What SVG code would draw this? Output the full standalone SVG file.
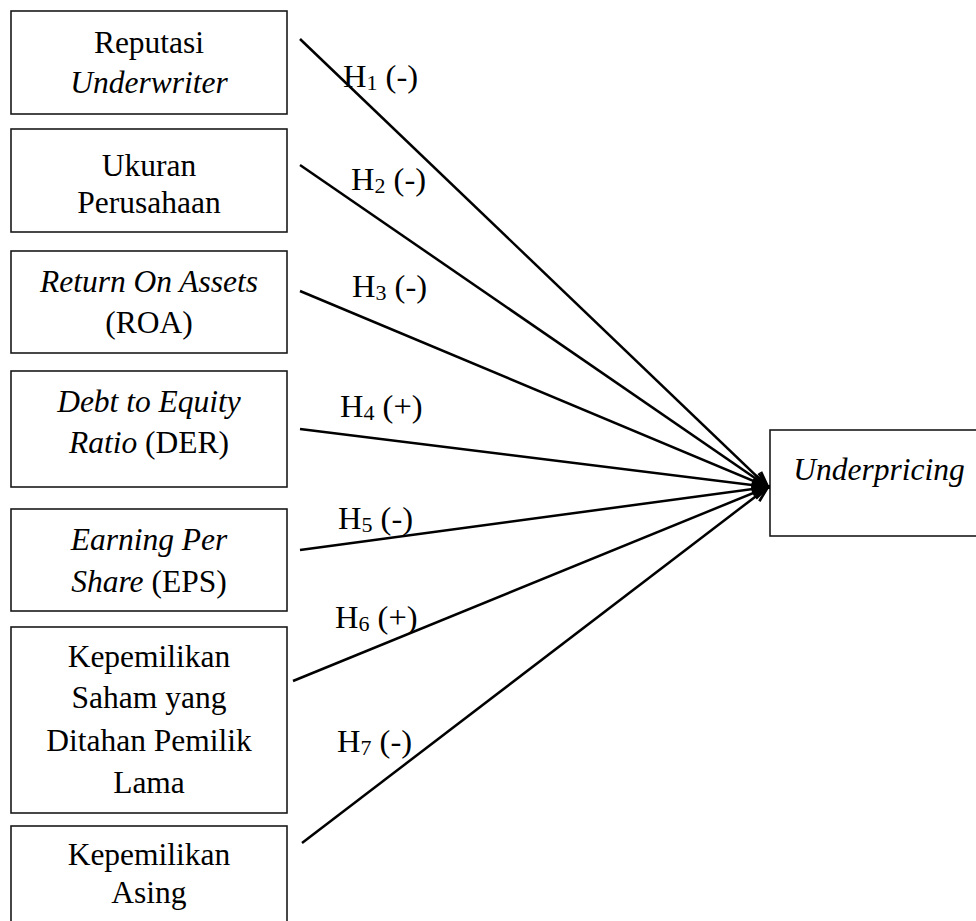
<svg xmlns="http://www.w3.org/2000/svg" width="976" height="921" viewBox="0 0 976 921">
<defs>
<style>
.box{fill:#fff;stroke:#1a1a1a;stroke-width:1.6}
.t{font-family:"Liberation Serif","Times New Roman",serif;font-size:31.5px;fill:#000;text-anchor:middle}
.lab{font-family:"Liberation Serif","Times New Roman",serif;font-size:32.5px;fill:#000}
.sub{font-size:22px}
.i{font-style:italic}
.c{stroke:#000;stroke-width:2.5;fill:none;marker-end:url(#ah)}
</style>
<marker id="ah" markerUnits="userSpaceOnUse" markerWidth="20" markerHeight="20" viewBox="-16 -8 18 16" refX="0" refY="0" orient="auto">
<path d="M-14,-5.5 L0,0 L-14,5.5" fill="none" stroke="#000" stroke-width="2.4"/>
</marker>
</defs>
<rect width="976" height="921" fill="#fff"/>
<g id="n1"><rect class="box" x="11" y="11" width="276" height="103"/>
<text class="t" x="149" y="53">Reputasi</text><text class="t i" x="149" y="93">Underwriter</text></g>
<g id="n2"><rect class="box" x="11" y="129" width="276" height="103"/>
<text class="t" x="149" y="176">Ukuran</text><text class="t" x="149" y="213">Perusahaan</text></g>
<g id="n3"><rect class="box" x="11" y="251" width="276" height="102"/>
<text class="t i" x="149" y="292">Return On Assets</text><text class="t" x="149" y="333">(ROA)</text></g>
<g id="n4"><rect class="box" x="11" y="371" width="276" height="116"/>
<text class="t i" x="149" y="412">Debt to Equity</text><text class="t" x="149" y="453"><tspan class="i">Ratio</tspan> (DER)</text></g>
<g id="n5"><rect class="box" x="11" y="509" width="276" height="102"/>
<text class="t i" x="149" y="550">Earning Per</text><text class="t" x="149" y="592"><tspan class="i">Share</tspan> (EPS)</text></g>
<g id="n6"><rect class="box" x="11" y="627" width="276" height="186"/>
<text class="t" x="149" y="667">Kepemilikan</text><text class="t" x="149" y="708">Saham yang</text><text class="t" x="149" y="751">Ditahan Pemilik</text><text class="t" x="149" y="793">Lama</text></g>
<g id="n7"><rect class="box" x="11" y="826" width="276" height="110"/>
<text class="t" x="149" y="865">Kepemilikan</text><text class="t" x="149" y="903">Asing</text></g>
<g id="n8"><rect class="box" x="770" y="430" width="220" height="106"/>
<text class="t i" x="879" y="480">Underpricing</text></g>
<g id="connectors">
<line class="c" x1="300" y1="39" x2="768" y2="487"/>
<line class="c" x1="300" y1="165" x2="768" y2="487"/>
<line class="c" x1="300" y1="291" x2="768" y2="487"/>
<line class="c" x1="300" y1="429" x2="768" y2="487"/>
<line class="c" x1="300" y1="550" x2="768" y2="487"/>
<line class="c" x1="293" y1="681" x2="768" y2="487"/>
<line class="c" x1="302" y1="843" x2="768" y2="487"/>
</g>
<g id="labels">
<text class="lab" x="343" y="87">H<tspan class="sub" dy="3">1</tspan><tspan dy="-3"> (-)</tspan></text>
<text class="lab" x="351" y="190">H<tspan class="sub" dy="3">2</tspan><tspan dy="-3"> (-)</tspan></text>
<text class="lab" x="352" y="297">H<tspan class="sub" dy="3">3</tspan><tspan dy="-3"> (-)</tspan></text>
<text class="lab" x="340" y="417">H<tspan class="sub" dy="3">4</tspan><tspan dy="-3"> (+)</tspan></text>
<text class="lab" x="338" y="529">H<tspan class="sub" dy="3">5</tspan><tspan dy="-3"> (-)</tspan></text>
<text class="lab" x="335" y="628">H<tspan class="sub" dy="3">6</tspan><tspan dy="-3"> (+)</tspan></text>
<text class="lab" x="337" y="752">H<tspan class="sub" dy="3">7</tspan><tspan dy="-3"> (-)</tspan></text>
</g>
</svg>
